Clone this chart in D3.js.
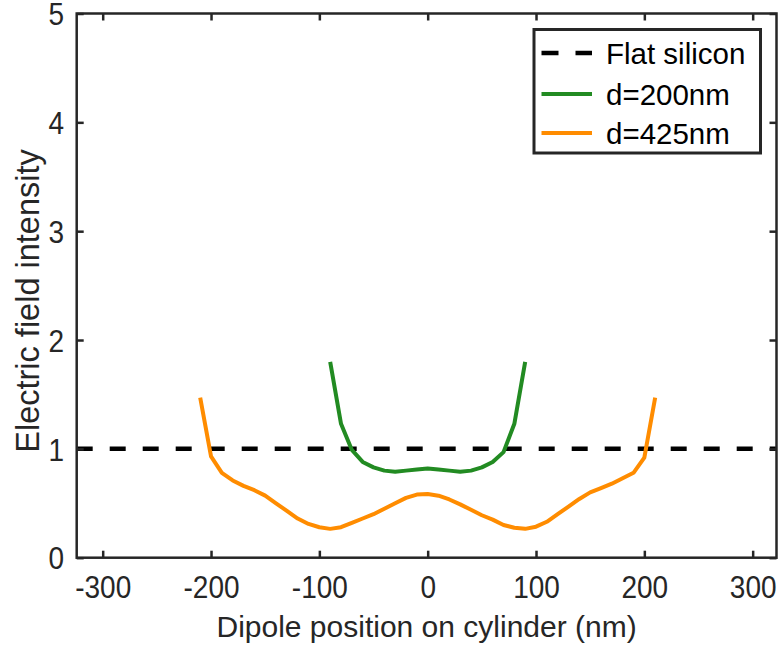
<!DOCTYPE html>
<html>
<head>
<meta charset="utf-8">
<script src="https://cdn.jsdelivr.net/npm/d3@7"></script>
<style>
  html, body { margin: 0; padding: 0; background: #fff; }
  svg { display: block; font-family: "Liberation Sans", Arial, Helvetica, sans-serif; }
</style>
</head>
<body>
<svg id="chart" width="780" height="648"></svg>
<script>
// ---- Data ----
const xTicks = [-300, -200, -100, 0, 100, 200, 300];
const yTicks = [0, 1, 2, 3, 4, 5];
const flatLevel = 1;

const x200 = [-90, -80, -70, -60, -50, -40, -30, -20, -10, 0, 10, 20, 30, 40, 50, 60, 70, 80, 90];
const y200 = [1.80, 1.23, 0.99, 0.88, 0.83, 0.80, 0.79, 0.80, 0.81, 0.82, 0.81, 0.80, 0.79, 0.80, 0.83, 0.88, 0.97, 1.23, 1.80];

const x425 = [-210, -200, -190, -180, -170, -160, -150, -140, -130, -120, -110, -100, -90, -80, -70, -60, -50, -40, -30, -20, -10,
              0, 10, 20, 30, 40, 50, 60, 70, 80, 90, 100, 110, 120, 130, 140, 150, 160, 170, 180, 190, 200, 210];
const y425 = [1.47, 0.93, 0.78, 0.71, 0.66, 0.62, 0.57, 0.50, 0.43, 0.36, 0.31, 0.28, 0.265, 0.28, 0.32, 0.36, 0.40, 0.45, 0.50, 0.55, 0.58,
              0.585, 0.57, 0.535, 0.49, 0.44, 0.39, 0.35, 0.30, 0.275, 0.265, 0.285, 0.33, 0.40, 0.47, 0.54, 0.60, 0.64, 0.68, 0.73, 0.78, 0.92, 1.47];

const legendLabels = ["Flat silicon", "d=200nm", "d=425nm"];
const xLabel = "Dipole position on cylinder (nm)";
const yLabel = "Electric field intensity";

// ---- Layout ----
const axisColor = "#262626";
const colGreen = "#228B22";
const colOrange = "#FF8C00";
const tickFont = 28;
const tickStretch = 1.1;

const svg = d3.select("#chart");
const x = d3.scaleLinear().domain([-324, 322]).range([76.7, 776.5]);
const y = d3.scaleLinear().domain([0, 5]).range([557.7, 13.5]);
const [x0, x1] = x.range();
const [y0, y1] = y.range();

const tickLen = 7;
const fmt = d => String(d);

// Flat silicon dashed line
svg.append("line")
  .attr("x1", x0).attr("x2", x1)
  .attr("y1", y(flatLevel)).attr("y2", y(flatLevel))
  .attr("stroke", "#000").attr("stroke-width", 4.5)
  .attr("stroke-dasharray", "16,17");

const line = d3.line().x(d => x(d[0])).y(d => y(d[1]));

svg.append("path")
  .datum(x200.map((v, i) => [v, y200[i]]))
  .attr("d", line)
  .attr("fill", "none").attr("stroke", colGreen).attr("stroke-width", 4)
  .attr("stroke-linejoin", "round");

svg.append("path")
  .datum(x425.map((v, i) => [v, y425[i]]))
  .attr("d", line)
  .attr("fill", "none").attr("stroke", colOrange).attr("stroke-width", 4)
  .attr("stroke-linejoin", "round");

// Axes
function styleAxis(g) {
  g.select(".domain").remove();
  g.selectAll(".tick line").attr("stroke", axisColor).attr("stroke-width", 2.5);
  g.selectAll(".tick text").attr("fill", axisColor).attr("font-size", tickFont)
    .attr("font-family", "'Liberation Sans', Arial, Helvetica, sans-serif");
}

// Convert tick text to baseline-anchored text with vertical stretch
function stretchTicks(g, baselineOffset, xOff) {
  g.selectAll(".tick text").each(function () {
    const t = d3.select(this);
    t.attr("x", 0).attr("y", 0).attr("dy", null)
      .attr("transform", `translate(${xOff},${baselineOffset}) scale(1,${tickStretch})`);
  });
}

const capH = 0.729 * tickFont * tickStretch;

svg.append("g").attr("transform", `translate(0,${y0})`)
  .call(d3.axisBottom(x).tickValues(xTicks).tickFormat(fmt).tickSize(-tickLen).tickPadding(19))
  .call(styleAxis)
  .call(g => stretchTicks(g, 40, 0));

svg.append("g").attr("transform", `translate(0,${y1})`)
  .call(d3.axisTop(x).tickValues(xTicks).tickFormat("").tickSize(-tickLen))
  .call(styleAxis);

svg.append("g").attr("transform", `translate(${x0},0)`)
  .call(d3.axisLeft(y).tickValues(yTicks).tickFormat(fmt).tickSize(-tickLen).tickPadding(12))
  .call(styleAxis)
  .call(g => stretchTicks(g, capH / 2, -12.5));

svg.append("g").attr("transform", `translate(${x1},0)`)
  .call(d3.axisRight(y).tickValues(yTicks).tickFormat("").tickSize(-tickLen))
  .call(styleAxis);

// Box
svg.append("rect")
  .attr("x", x0).attr("y", y1)
  .attr("width", x1 - x0).attr("height", y0 - y1)
  .attr("fill", "none").attr("stroke", axisColor).attr("stroke-width", 2.5);

// Axis labels
svg.append("text")
  .attr("x", (x0 + x1) / 2).attr("y", 637)
  .attr("text-anchor", "middle").attr("font-size", 30).attr("fill", axisColor)
  .text(xLabel);

svg.append("text")
  .attr("transform", `translate(39,301) rotate(-90)`)
  .attr("text-anchor", "middle").attr("font-size", 32.5).attr("fill", axisColor)
  .text(yLabel);

// Legend
const lg = svg.append("g");
lg.append("rect")
  .attr("x", 534).attr("y", 29.5).attr("width", 226.5).attr("height", 123.5)
  .attr("fill", "#fff").attr("stroke", axisColor).attr("stroke-width", 3);

const legendItems = [
  { label: legendLabels[0], color: "#000", dash: "17,17", width: 4.5 },
  { label: legendLabels[1], color: colGreen, dash: null, width: 4 },
  { label: legendLabels[2], color: colOrange, dash: null, width: 4 }
];
const rowY = [53, 94, 133];
legendItems.forEach((it, i) => {
  const l = lg.append("line")
    .attr("x1", 541.5).attr("x2", 592)
    .attr("y1", rowY[i]).attr("y2", rowY[i])
    .attr("stroke", it.color).attr("stroke-width", it.width);
  if (it.dash) l.attr("stroke-dasharray", it.dash);
  lg.append("text")
    .attr("x", 606).attr("y", rowY[i])
    .attr("dy", "0.36em")
    .attr("font-size", 29.5).attr("fill", "#000")
    .text(it.label);
});
</script>
</body>
</html>
